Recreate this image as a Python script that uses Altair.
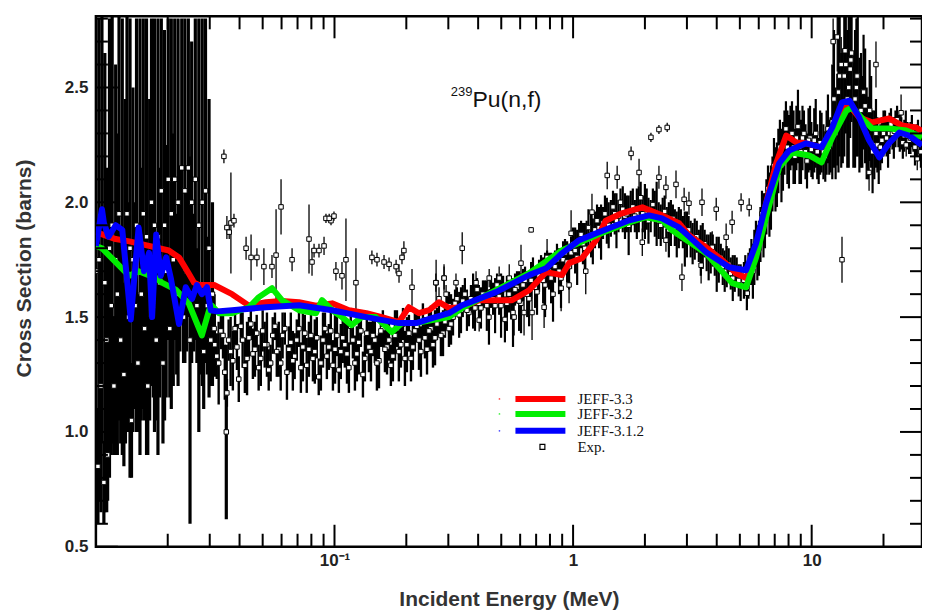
import altair as alt
import pandas as pd

# ---------------- evaluated curves (E in MeV, sigma in barns) ----------------
red_E = [0.0100,0.0121,0.0138,0.0167,0.0202,0.0223,0.0245,0.0258,0.0270,0.0313,0.0372,0.0438,0.0516,0.0602,0.0710,0.0836,0.0977,0.115,0.136,0.158,0.186,0.205,0.226,0.249,0.274,0.302,0.343,0.404,0.475,0.555,0.654,0.771,0.899,0.962,1.09,1.25,1.37,1.60,1.95,2.36,2.78,3.06,3.61,4.22,4.82,5.31,5.85,6.44,7.10,7.82,8.61,9.48,11.0,12.2,13.4,14.4,15.8,17.9,21.1,23.9,27.4,29.0]
red_S = [1.87,1.84,1.83,1.81,1.79,1.76,1.69,1.65,1.64,1.64,1.60,1.55,1.565,1.57,1.565,1.55,1.56,1.53,1.517,1.50,1.478,1.543,1.517,1.53,1.565,1.54,1.543,1.574,1.574,1.574,1.617,1.696,1.683,1.735,1.757,1.835,1.92,1.952,1.978,1.943,1.909,1.857,1.804,1.748,1.691,1.670,1.791,1.996,2.17,2.291,2.261,2.257,2.239,2.313,2.413,2.422,2.37,2.348,2.365,2.335,2.326,2.31]

green_E = [0.0100,0.0106,0.0138,0.0151,0.0179,0.0189,0.0216,0.0245,0.0278,0.0298,0.0306,0.0328,0.0372,0.0438,0.0482,0.0547,0.0602,0.0710,0.0836,0.0887,0.0977,0.1075,0.118,0.130,0.149,0.174,0.192,0.220,0.256,0.302,0.343,0.475,0.654,0.899,1.25,1.72,2.02,2.36,2.60,3.61,4.64,5.31,5.85,6.44,7.31,8.28,9.77,11.0,12.2,14.0,14.8,16.3,17.9,21.1,24.9,29.0]
green_S = [1.81,1.80,1.68,1.70,1.67,1.65,1.62,1.56,1.42,1.53,1.55,1.517,1.517,1.543,1.587,1.626,1.574,1.53,1.517,1.574,1.53,1.50,1.465,1.50,1.50,1.435,1.474,1.474,1.487,1.50,1.54,1.617,1.691,1.791,1.857,1.913,1.935,1.922,1.878,1.778,1.648,1.630,1.761,1.935,2.152,2.217,2.204,2.174,2.283,2.40,2.413,2.365,2.322,2.322,2.313,2.283]

blue_E = [0.0100,0.0106,0.0108,0.0113,0.0121,0.0129,0.0140,0.0151,0.0159,0.0167,0.0172,0.0179,0.0187,0.0197,0.0206,0.0223,0.0238,0.0253,0.0265,0.0278,0.0292,0.0303,0.0322,0.0372,0.0516,0.0710,0.0977,0.136,0.186,0.220,0.256,0.302,0.343,0.475,0.654,0.771,0.899,1.06,1.25,1.72,2.08,2.36,2.78,3.61,4.51,5.31,5.85,6.44,7.31,8.05,9.48,11.0,12.2,13.4,14.4,15.8,17.4,19.2,21.1,23.3,25.6,29.0]
blue_S = [1.81,1.97,1.91,1.85,1.90,1.88,1.49,1.89,1.70,1.78,1.50,1.86,1.68,1.76,1.67,1.47,1.63,1.58,1.64,1.60,1.63,1.53,1.525,1.53,1.543,1.552,1.53,1.50,1.474,1.474,1.496,1.517,1.552,1.609,1.683,1.713,1.778,1.835,1.865,1.922,1.943,1.93,1.891,1.783,1.717,1.704,1.822,1.996,2.17,2.226,2.257,2.239,2.326,2.435,2.443,2.37,2.27,2.196,2.257,2.304,2.291,2.248]

# ---------------- experimental data (E, sigma, error) ----------------
wall_E = [0.0100,0.0102,0.0103,0.0105,0.0106,0.0108,0.0109,0.0111,0.0112,0.0114,0.0116,0.0117,0.0119,0.0121,0.0123,0.0125,0.0127,0.0129,0.0131,0.0133,0.0135,0.0137,0.0139,0.0141,0.0143,0.0146,0.0148,0.0150,0.0153,0.0155,0.0158,0.0160,0.0163,0.0165,0.0168,0.0171,0.0174,0.0176,0.0179,0.0182,0.0185,0.0188,0.0191,0.0194,0.0197,0.0201,0.0204,0.0207,0.0211,0.0214,0.0218,0.0221,0.0225,0.0229,0.0233,0.0236,0.0240,0.0244,0.0248,0.0252,0.0257,0.0261,0.0265,0.0270,0.0274,0.0279,0.0283,0.0288,0.0293,0.0298,0.0303,0.0308,0.0313,0.0352]
wall_S = [1.70,0.85,1.75,1.20,1.90,0.78,1.65,1.40,0.90,1.80,1.55,1.90,1.20,1.75,1.60,1.95,1.40,1.85,1.25,1.70,1.95,1.50,1.80,1.05,1.75,1.55,1.90,1.30,1.85,1.60,1.95,1.45,1.85,1.20,1.75,2.00,1.55,1.90,1.40,1.85,1.65,2.05,1.30,1.90,1.70,2.10,1.45,1.95,1.75,2.10,1.60,2.00,1.75,2.15,1.50,2.05,1.70,2.15,1.40,2.00,1.65,2.10,1.55,1.90,1.45,2.00,1.35,2.05,1.55,1.80,1.40,1.60,1.45,1.00]
wall_err = [1.10,0.25,1.05,0.55,0.95,0.18,1.00,0.75,0.20,1.00,0.65,0.95,0.30,0.85,0.70,0.90,0.45,0.95,0.40,0.75,0.90,0.50,1.00,0.25,0.75,0.45,0.90,0.30,0.95,0.55,0.85,0.40,0.95,0.30,0.70,0.80,0.40,0.90,0.35,0.95,0.50,0.75,0.35,0.85,0.55,0.70,0.30,0.85,0.55,0.70,0.35,0.80,0.40,0.65,0.20,0.75,0.35,0.65,0.80,0.70,0.30,0.70,0.25,0.90,0.20,0.80,0.25,0.75,0.30,0.65,0.20,0.40,0.15,0.38]

cloud_E = [0.0315,0.0327,0.0341,0.0354,0.0367,0.0383,0.0397,0.0412,0.0430,0.0446,0.0464,0.0481,0.0500,0.0521,0.0540,0.0563,0.0584,0.0606,0.0632,0.0656,0.0681,0.0710,0.0737,0.0765,0.0797,0.0827,0.0859,0.0895,0.0929,0.0965,0.1005,0.1043,0.1083,0.1128,0.1170,0.1218,0.1264,0.1316,0.1366,0.1422,0.1476,0.1536,0.1595,0.1660,0.1723,0.1793,0.1861,0.1937,0.2011,0.2092,0.2172,0.2260,0.2347,0.2442,0.2536,0.2638,0.2739,0.2849,0.2959,0.3078]
cloud_S = [1.38,1.30,1.42,1.17,1.35,1.45,1.23,1.40,1.32,1.47,1.36,1.28,1.44,1.38,1.30,1.46,1.36,1.42,1.26,1.39,1.33,1.45,1.37,1.29,1.42,1.35,1.24,1.40,1.33,1.44,1.36,1.27,1.41,1.34,1.46,1.30,1.39,1.25,1.43,1.35,1.40,1.31,1.45,1.37,1.29,1.42,1.35,1.47,1.38,1.32,1.44,1.40,1.48,1.36,1.45,1.41,1.50,1.43,1.52,1.47]
cloud_err = [0.14,0.18,0.10,0.06,0.15,0.08,0.10,0.12,0.16,0.07,0.12,0.10,0.09,0.14,0.08,0.06,0.12,0.10,0.12,0.13,0.10,0.08,0.15,0.12,0.10,0.14,0.08,0.12,0.10,0.09,0.15,0.10,0.11,0.13,0.08,0.12,0.14,0.10,0.09,0.13,0.10,0.12,0.08,0.12,0.09,0.11,0.13,0.07,0.12,0.10,0.09,0.13,0.08,0.11,0.10,0.12,0.08,0.10,0.07,0.09]

cloud2_E = [0.0321,0.0334,0.0347,0.0360,0.0375,0.0390,0.0405,0.0421,0.0438,0.0455,0.0472,0.0491,0.0510,0.0530,0.0551,0.0573,0.0595,0.0619,0.0644,0.0669,0.0695,0.0723,0.0751,0.0781,0.0812,0.0843,0.0877,0.0912,0.0947,0.0985,0.1024,0.1063,0.1105,0.1149,0.1194,0.1241,0.1290,0.1341,0.1394,0.1449,0.1506,0.1565,0.1627,0.1691,0.1757,0.1827,0.1898,0.1973,0.2051,0.2131,0.2215,0.2303,0.2394,0.2489,0.2587,0.2688,0.2793,0.2904,0.3018]
cloud2_S = [1.33,1.44,1.26,1.40,1.31,1.37,1.46,1.29,1.41,1.34,1.43,1.32,1.38,1.27,1.42,1.35,1.30,1.45,1.36,1.31,1.40,1.28,1.43,1.36,1.32,1.41,1.30,1.45,1.37,1.29,1.42,1.35,1.38,1.28,1.40,1.34,1.44,1.32,1.37,1.42,1.30,1.44,1.36,1.40,1.33,1.45,1.38,1.32,1.43,1.37,1.46,1.35,1.41,1.44,1.38,1.47,1.42,1.48,1.45]
cloud2_err = [0.10,0.08,0.12,0.09,0.13,0.10,0.07,0.12,0.09,0.11,0.08,0.12,0.10,0.09,0.08,0.11,0.12,0.07,0.10,0.13,0.09,0.11,0.08,0.12,0.10,0.09,0.12,0.07,0.10,0.11,0.09,0.12,0.10,0.11,0.08,0.12,0.07,0.10,0.11,0.09,0.12,0.07,0.10,0.09,0.11,0.08,0.10,0.12,0.08,0.10,0.07,0.11,0.09,0.08,0.10,0.07,0.09,0.07,0.08]

upper_E = [0.0344,0.0354,0.0368,0.0379,0.0362,0.0426,0.0447,0.0473,0.0506,0.0547,0.0569,0.0597,0.0664,0.0782,0.0805,0.0821,0.0861,0.0904,0.0921,0.0967,0.0995,0.0950,0.1014,0.1075,0.1117,0.1230,0.1435,0.1507,0.1613,0.1693,0.1812,0.1864,0.1918,0.1954,0.2113,0.2666,0.2742,0.2878,0.2936]
upper_S = [2.20,1.89,1.91,1.92,1.87,1.80,1.76,1.76,1.72,1.72,1.77,1.98,1.75,1.84,1.74,1.79,1.79,1.81,1.93,1.92,1.94,1.93,1.70,1.68,1.75,1.65,1.76,1.75,1.74,1.73,1.72,1.69,1.76,1.79,1.63,1.65,1.58,1.67,1.60]
upper_err = [0.03,0.05,0.22,0.03,0.03,0.05,0.10,0.04,0.08,0.05,0.20,0.12,0.05,0.15,0.06,0.03,0.03,0.04,0.02,0.02,0.02,0.02,0.04,0.06,0.18,0.15,0.03,0.03,0.03,0.03,0.03,0.04,0.03,0.04,0.08,0.10,0.05,0.06,0.04]

mid_E = [0.302,0.314,0.326,0.339,0.352,0.366,0.381,0.396,0.411,0.427,0.444,0.462,0.480,0.499,0.518,0.539,0.560,0.582,0.605,0.629,0.654,0.679,0.706,0.734,0.763,0.793,0.824,0.856,0.890,0.925,0.962,1.00,1.04,1.08,1.12,1.16,1.21,1.26,1.31,1.36,1.41,1.47,1.52,1.58,1.65,1.71,1.78,1.85,1.92,2.00,2.07,2.16,2.24,2.33,2.42,2.52,2.62,2.72,2.83,2.94,3.05,3.17,3.30,3.43,3.56,3.70,3.85,4.00,4.16,4.32,4.49,4.67,4.85,5.04]
mid_S = [1.55,1.50,1.58,1.53,1.60,1.52,1.57,1.62,1.54,1.60,1.50,1.58,1.64,1.55,1.49,1.60,1.52,1.63,1.56,1.66,1.58,1.69,1.61,1.72,1.64,1.70,1.60,1.75,1.67,1.78,1.72,1.82,1.76,1.86,1.80,1.89,1.83,1.92,1.87,1.95,1.90,1.98,1.92,2.00,1.94,1.90,1.98,1.95,2.02,1.96,1.92,1.99,1.95,1.90,1.96,1.88,1.93,1.86,1.90,1.84,1.88,1.82,1.85,1.79,1.82,1.76,1.79,1.73,1.76,1.70,1.73,1.67,1.70,1.65]
mid_err = [0.06,0.08,0.05,0.10,0.07,0.06,0.12,0.05,0.09,0.06,0.12,0.07,0.05,0.14,0.10,0.08,0.15,0.07,0.13,0.06,0.12,0.07,0.10,0.05,0.14,0.08,0.12,0.07,0.13,0.06,0.10,0.07,0.12,0.06,0.11,0.08,0.10,0.07,0.12,0.08,0.10,0.07,0.12,0.06,0.10,0.13,0.08,0.11,0.07,0.12,0.10,0.07,0.14,0.09,0.07,0.12,0.06,0.10,0.07,0.12,0.06,0.09,0.07,0.11,0.06,0.10,0.07,0.12,0.06,0.09,0.07,0.10,0.06,0.08]

mid2_E = [0.308,0.320,0.333,0.345,0.359,0.373,0.388,0.403,0.419,0.435,0.453,0.471,0.490,0.509,0.528,0.550,0.571,0.594,0.617,0.642,0.667,0.693,0.720,0.749,0.778,0.809,0.840,0.873,0.908,0.944,0.981,1.02,1.06,1.10,1.14,1.19,1.235,1.285,1.335,1.385,1.44,1.495,1.55,1.615,1.68,1.745,1.815,1.885,1.96,2.035,2.115,2.20,2.285,2.375,2.47,2.57,2.67,2.775,2.885,3.00,3.11,3.235,3.365,3.495,3.63,3.775,3.925,4.08,4.24,4.405,4.58,4.76,4.945]
mid2_S = [1.52,1.56,1.51,1.57,1.53,1.58,1.54,1.56,1.60,1.55,1.61,1.55,1.59,1.62,1.56,1.58,1.62,1.57,1.64,1.60,1.66,1.63,1.68,1.66,1.71,1.67,1.72,1.70,1.75,1.74,1.78,1.79,1.83,1.82,1.85,1.86,1.88,1.89,1.91,1.92,1.93,1.95,1.94,1.97,1.95,1.96,1.94,1.97,1.95,1.97,1.94,1.95,1.92,1.93,1.91,1.91,1.89,1.89,1.87,1.86,1.84,1.84,1.81,1.81,1.78,1.78,1.75,1.75,1.72,1.72,1.69,1.69,1.66]
mid2_err = [0.08,0.06,0.10,0.07,0.09,0.06,0.10,0.08,0.06,0.11,0.07,0.12,0.08,0.06,0.12,0.09,0.07,0.13,0.07,0.10,0.08,0.09,0.07,0.10,0.08,0.11,0.07,0.10,0.08,0.09,0.07,0.10,0.08,0.09,0.07,0.10,0.08,0.09,0.07,0.10,0.08,0.09,0.07,0.10,0.08,0.09,0.07,0.10,0.08,0.09,0.07,0.10,0.08,0.09,0.07,0.10,0.08,0.09,0.07,0.10,0.08,0.09,0.07,0.10,0.08,0.09,0.07,0.10,0.08,0.09,0.07,0.08,0.07]

scat_E = [0.266,0.288,0.323,0.343,0.392,0.445,0.490,0.540,0.605,0.667,0.404,0.566,0.623,0.673,0.756,0.778,0.981,0.891,0.962,1.13,1.20,1.39,1.53,1.75,1.89,2.12,2.29,2.48,1.95,2.45,2.29,2.45,2.70,2.92,3.06,3.47,3.98,5.06,5.47,2.86,3.44,3.83,4.38,4.64,5.37]
scat_S = [1.65,1.67,1.65,1.80,1.65,1.67,1.67,1.67,1.735,1.88,1.487,1.50,1.52,1.52,1.543,1.76,1.865,1.626,1.64,1.70,1.957,2.117,2.109,2.213,2.13,2.283,2.317,2.326,1.826,1.835,2.109,2.065,2.078,2.013,1.996,2.00,1.97,2.00,1.978,1.674,1.726,1.804,1.848,1.913,1.604]
scat_err = [0.04,0.05,0.04,0.07,0.05,0.04,0.05,0.06,0.08,0.01,0.05,0.08,0.10,0.12,0.09,0.08,0.10,0.10,0.08,0.10,0.08,0.06,0.05,0.03,0.06,0.02,0.02,0.02,0.06,0.05,0.05,0.05,0.06,0.05,0.05,0.06,0.05,0.04,0.04,0.06,0.08,0.07,0.06,0.05,0.06]

high_E = [5.20,5.35,5.51,5.67,5.84,6.01,6.19,6.37,6.56,6.75,6.95,7.15,7.36,7.58,7.80,8.03,8.27,8.51,8.76,9.02,9.28,9.56,9.84,10.1,10.4,10.7,11.0,11.4,11.7,12.0,12.4,12.8,13.1,13.5,13.9,14.3,14.7,15.2,15.6,16.1,16.5,17.0,17.5,18.0,18.6,19.1,19.7,20.3,20.9,21.5,22.1,22.8,23.4,24.1,24.8,25.6,26.3,27.1,27.9,28.7]
high_S = [1.66,1.63,1.72,1.70,1.82,1.80,1.95,1.92,2.06,2.02,2.16,2.12,2.24,2.20,2.32,2.22,2.30,2.20,2.33,2.22,2.30,2.18,2.28,2.20,2.30,2.18,2.26,2.20,2.32,2.25,2.45,2.36,2.55,2.42,2.60,2.50,2.65,2.45,2.55,2.40,2.48,2.30,2.40,2.22,2.30,2.20,2.27,2.32,2.25,2.34,2.28,2.36,2.30,2.26,2.32,2.27,2.31,2.24,2.30,2.22]
high_err = [0.08,0.10,0.08,0.12,0.10,0.12,0.10,0.12,0.10,0.14,0.12,0.14,0.12,0.15,0.12,0.16,0.14,0.12,0.16,0.14,0.10,0.12,0.14,0.10,0.15,0.10,0.13,0.11,0.15,0.12,0.30,0.20,0.35,0.25,0.30,0.35,0.30,0.30,0.35,0.25,0.25,0.20,0.22,0.18,0.15,0.12,0.10,0.08,0.10,0.07,0.09,0.06,0.08,0.07,0.08,0.06,0.07,0.08,0.06,0.07]

high2_E = [5.27,5.43,5.59,5.75,5.92,6.10,6.28,6.46,6.65,6.85,7.05,7.25,7.47,7.69,7.91,8.15,8.39,8.63,8.89,9.15,9.42,9.70,9.97,10.25,10.55,10.85,11.2,11.55,11.85,12.2,12.6,12.95,13.3,13.7,14.1,14.5,14.95,15.4,15.85,16.3,16.75,17.25,17.75,18.3,18.85,19.4,20.0,20.6,21.2,21.8,22.45,23.1,23.75,24.45,25.2,25.95,26.7,27.5,28.3]
high2_S = [1.69,1.68,1.74,1.76,1.78,1.86,1.90,1.98,1.99,2.08,2.10,2.18,2.16,2.26,2.24,2.28,2.24,2.28,2.24,2.28,2.22,2.27,2.23,2.27,2.22,2.26,2.22,2.26,2.24,2.35,2.30,2.48,2.40,2.55,2.45,2.58,2.40,2.50,2.38,2.35,2.42,2.28,2.35,2.25,2.25,2.24,2.30,2.28,2.30,2.30,2.32,2.31,2.30,2.29,2.29,2.28,2.28,2.27,2.26]
high2_err = [0.08,0.10,0.10,0.12,0.12,0.12,0.14,0.12,0.14,0.12,0.14,0.14,0.16,0.14,0.16,0.14,0.16,0.14,0.16,0.14,0.12,0.14,0.12,0.14,0.12,0.14,0.12,0.14,0.12,0.25,0.20,0.35,0.25,0.35,0.30,0.30,0.25,0.30,0.25,0.20,0.25,0.18,0.20,0.15,0.12,0.10,0.10,0.08,0.09,0.07,0.08,0.07,0.07,0.07,0.06,0.07,0.06,0.07,0.06]

iso_E = [12.3,13.3,18.6,13.4,23.7,27.7,22.2,24.9,17.4,12.8,13.8,14.6,15.5]
iso_S = [2.70,2.60,2.60,1.75,2.39,2.19,2.31,2.25,2.13,2.72,2.66,2.62,2.55]
iso_err = [0.10,0.12,0.10,0.10,0.08,0.05,0.06,0.05,0.08,0.15,0.12,0.20,0.25]

# axis ticks
x_major = [0.1, 1, 10]
x_minor = [0.02,0.03,0.04,0.05,0.06,0.07,0.08,0.09,0.2,0.3,0.4,0.5,0.6,0.7,0.8,0.9,2,3,4,5,6,7,8,9,20]
y_major = [0.5, 1.0, 1.5, 2.0, 2.5]
y_minor = [0.6,0.7,0.8,0.9,1.1,1.2,1.3,1.4,1.6,1.7,1.8,1.9,2.1,2.2,2.3,2.4,2.6,2.7,2.8]

# ---------------- build tables ----------------
def exp_table(E, S, err, w):
    rows = [(e, s, s - d, s + d, w) for e, s, d in zip(E, S, err)]
    return pd.DataFrame(rows, columns=["E", "S", "lo", "hi", "w"])

exp = pd.concat([exp_table(wall_E, wall_S, wall_err, 3.2),
                 exp_table(cloud_E, cloud_S, cloud_err, 2.4),
                 exp_table(cloud2_E, cloud2_S, cloud2_err, 2.4),
                 exp_table(upper_E, upper_S, upper_err, 1.3),
                 exp_table(mid_E, mid_S, mid_err, 2.2),
                 exp_table(mid2_E, mid2_S, mid2_err, 2.2),
                 exp_table(scat_E, scat_S, scat_err, 1.3),
                 exp_table(high_E, high_S, high_err, 2.2),
                 exp_table(high2_E, high2_S, high2_err, 2.2),
                 exp_table(iso_E, iso_S, iso_err, 1.3)], ignore_index=True)

W, H = 827, 531
xs = alt.Scale(type="log", domain=[0.01, 29], nice=False)
ys = alt.Scale(domain=[0.5, 2.81], nice=False, zero=False)

FONT = "Liberation Sans"
x_axis = alt.Axis(values=x_major, labelExpr="datum.value < 0.5 ? '10⁻¹' : datum.value < 5 ? '1' : '10'",
                  ticks=False, tickSize=0, domain=False, grid=False, labelFont=FONT,
                  labelFontWeight="bold", labelFontSize=17, labelPadding=6, labelColor="#222",
                  title="Incident Energy (MeV)", titleFont=FONT, titleFontSize=21,
                  titleFontWeight="bold", titlePadding=20, titleColor="#333")
y_axis = alt.Axis(values=y_major, format=".1f", ticks=False, tickSize=0, domain=False, grid=False,
                  labelFont=FONT, labelFontWeight="bold", labelFontSize=17, labelPadding=8,
                  labelColor="#222", title="Cross Section (barns)", titleFont=FONT,
                  titleFontSize=21, titleFontWeight="bold", titlePadding=30, titleColor="#333",
                  titleY=252)

X = lambda f: alt.X(f, scale=xs, axis=x_axis)
Y = lambda f: alt.Y(f, scale=ys, axis=y_axis)

base = alt.Chart(exp)
bars = base.mark_rule(color="black", clip=True).encode(
    x=X("E:Q"), y=Y("lo:Q"), y2="hi:Q",
    strokeWidth=alt.StrokeWidth("w:Q", scale=None, legend=None))
squares = base.mark_square(size=20, fill="white", stroke="black", strokeWidth=1, opacity=1, clip=True).encode(
    x=X("E:Q"), y=Y("S:Q"))

def curve(E, S, color):
    return alt.Chart(pd.DataFrame({"E": E, "S": S})).mark_line(
        color=color, strokeWidth=6, clip=True, strokeJoin="round").encode(x=X("E:Q"), y=Y("S:Q"))

red = curve(red_E, red_S, "#ff0000")
green = curve(green_E, green_S, "#00ee00")
blue = curve(blue_E, blue_S, "#0000ff")

def xticks(vals, length):
    d = alt.Chart(pd.DataFrame({"E": vals}))
    b = d.mark_rule(color="black", strokeWidth=2).encode(x=X("E:Q"), y=alt.value(H), y2=alt.value(H - length))
    t = d.mark_rule(color="black", strokeWidth=2).encode(x=X("E:Q"), y=alt.value(0), y2=alt.value(length))
    return [b, t]

def yticks(vals, length):
    d = alt.Chart(pd.DataFrame({"S": vals}))
    l = d.mark_rule(color="black", strokeWidth=2).encode(y=Y("S:Q"), x=alt.value(0), x2=alt.value(length))
    r = d.mark_rule(color="black", strokeWidth=2).encode(y=Y("S:Q"), x=alt.value(W), x2=alt.value(W - length))
    return [l, r]

one = pd.DataFrame({"a": [0]})
annot = []
annot.append(alt.Chart(one).mark_text(font=FONT, fontSize=23, align="left", baseline="alphabetic",
                                      color="#111").encode(x=alt.value(377), y=alt.value(91), text=alt.value("Pu(n,f)")))
annot.append(alt.Chart(one).mark_text(font=FONT, fontSize=13, align="right", baseline="alphabetic",
                                      color="#111").encode(x=alt.value(377), y=alt.value(80), text=alt.value("239")))

legend_items = [("JEFF-3.3", "#ff0000", 383), ("JEFF-3.2", "#00ee00", 398), ("JEFF-3.1.2", "#0000ff", 415)]
for label, col, ypx in legend_items:
    annot.append(alt.Chart(one).mark_rule(color=col, strokeWidth=6).encode(
        x=alt.value(420), x2=alt.value(470), y=alt.value(ypx)))
    annot.append(alt.Chart(one).mark_point(color=col, size=3, filled=True).encode(
        x=alt.value(404), y=alt.value(ypx)))
    annot.append(alt.Chart(one).mark_text(font="Liberation Serif", fontSize=15, align="left",
                                          baseline="middle", color="#111").encode(
        x=alt.value(482), y=alt.value(ypx), text=alt.value(label)))
annot.append(alt.Chart(one).mark_square(size=24, fill="white", stroke="black", strokeWidth=1.2, opacity=1).encode(
    x=alt.value(447), y=alt.value(431)))
annot.append(alt.Chart(one).mark_text(font="Liberation Serif", fontSize=15, align="left",
                                      baseline="middle", color="#111").encode(
    x=alt.value(482), y=alt.value(431), text=alt.value("Exp.")))

layers = [bars, squares, red, green, blue] + xticks(x_major, 22) + xticks(x_minor, 13) \
         + yticks(y_major, 22) + yticks(y_minor, 12) + annot

chart = alt.layer(*layers).properties(
    width=W, height=H,
    padding={"left": 88, "top": 8, "right": 0, "bottom": 64},
    autosize=alt.AutoSizeParams(type="none"),
    background="white",
).configure_view(stroke="black", strokeWidth=2.5)

chart.save("out.html", embed_options={"renderer": "svg", "actions": False})
